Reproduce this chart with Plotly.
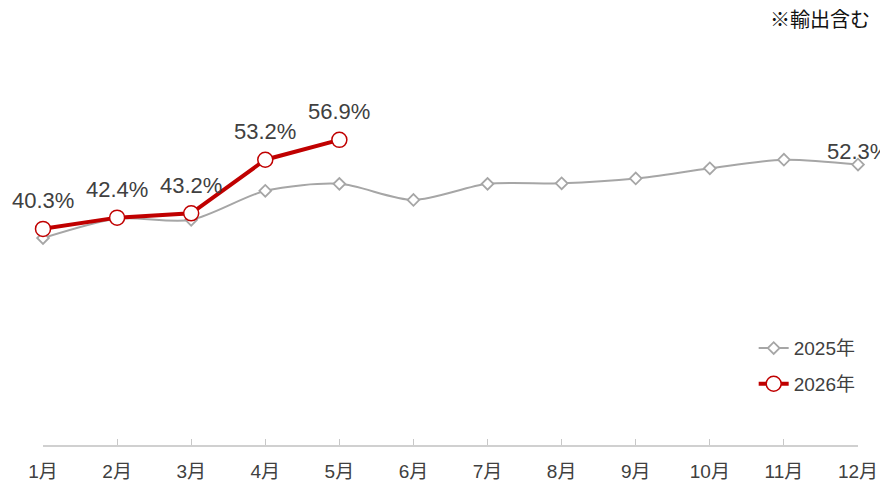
import plotly.graph_objects as go

months = ["1月", "2月", "3月", "4月", "5月", "6月", "7月", "8月", "9月", "10月", "11月", "12月"]
y2025 = [38.6, 42.2, 42.0, 47.4, 48.7, 45.7, 48.7, 48.8, 49.7, 51.6, 53.2, 52.3]
y2026 = [40.3, 42.4, 43.2, 53.2, 56.9]
labels2025 = [""] * 11 + ["52.3%"]
labels2026 = ["40.3%", "42.4%", "43.2%", "53.2%", "56.9%"]

FONT = "Liberation Sans, Arial, Noto Sans CJK JP, sans-serif"
x = list(range(len(months)))

fig = go.Figure()
fig.add_trace(go.Scatter(
    x=x, y=y2025, name="2025年", mode="lines+markers", legendgroup="g2025",
    line=dict(color="#A6A6A6", width=2, shape="spline", smoothing=0.8),
    marker=dict(symbol="diamond", size=9, color="white",
                line=dict(color="#A6A6A6", width=1.8)),
    cliponaxis=False,
))
fig.add_trace(go.Scatter(
    x=x[:len(y2026)], y=y2026, name="2026年", mode="lines+markers", legendgroup="g2026",
    line=dict(color="#C00000", width=4),
    marker=dict(symbol="circle", size=15, color="white",
                line=dict(color="#C00000", width=1.5)),
    cliponaxis=False,
))

annotations = []
for xi, yi, t in zip(x, y2025, labels2025):
    if t:
        annotations.append(dict(x=xi, y=yi, text=t, xref="x", yref="y",
                                showarrow=False, xanchor="center", yanchor="middle",
                                yshift=13,
                                font=dict(size=22, color="#404040", family=FONT)))
for xi, yi, t in zip(x, y2026, labels2026):
    annotations.append(dict(x=xi, y=yi, text=t, xref="x", yref="y",
                            showarrow=False, xanchor="center", yanchor="middle",
                            yshift=28,
                            font=dict(size=22, color="#404040", family=FONT)))
annotations.append(dict(text="※輸出含む", xref="paper", yref="paper",
                        x=1.017, y=0.99, xanchor="right", yanchor="middle",
                        showarrow=False,
                        font=dict(size=20, color="#111111", family=FONT)))

fig.update_layout(
    width=880, height=475,
    margin=dict(l=35, r=30, t=8, b=38, autoexpand=False),
    paper_bgcolor="white", plot_bgcolor="white",
    font=dict(family=FONT, color="#404040"),
    showlegend=True,
    legend=dict(x=0.872, y=0.27, xanchor="left", yanchor="top",
                font=dict(size=19, color="#404040", family=FONT),
                bgcolor="rgba(0,0,0,0)", tracegroupgap=8),
    xaxis=dict(range=[0, 11], tickmode="array", tickvals=x, ticktext=months,
               showline=True, linecolor="#D0D0D0", linewidth=1.5,
               ticks="inside", ticklen=6, tickcolor="#C8C8C8",
               showgrid=False, zeroline=False, ticklabelstandoff=8,
               automargin=False,
               tickfont=dict(size=19, color="#404040", family=FONT)),
    yaxis=dict(range=[0, 80], visible=False, showgrid=False, zeroline=False),
    annotations=annotations,
)

fig.write_html("out.html")
